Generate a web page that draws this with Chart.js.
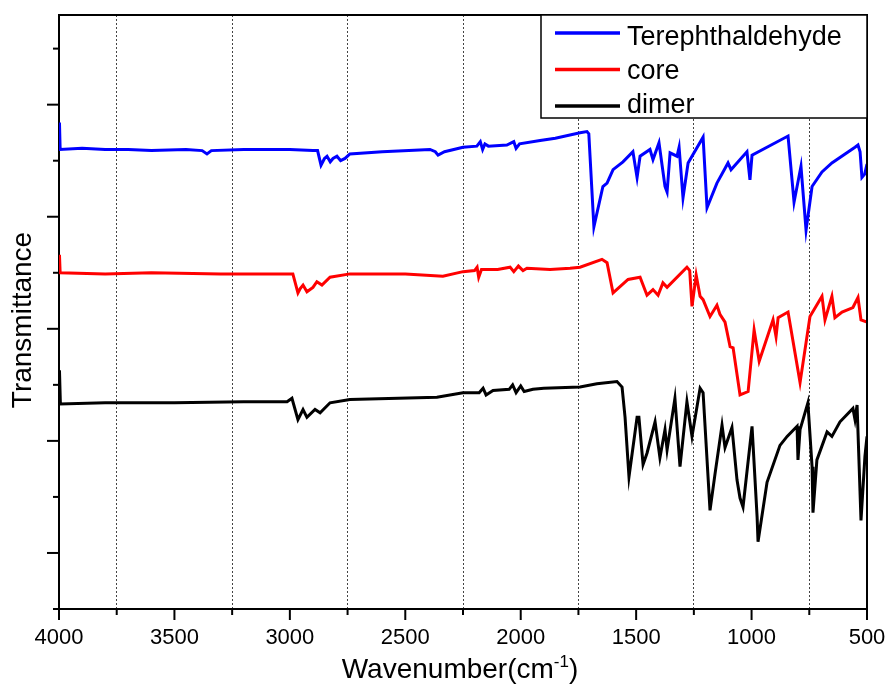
<!DOCTYPE html>
<html>
<head>
<meta charset="utf-8">
<script src="https://cdn.jsdelivr.net/npm/chart.js@4.4.1/dist/chart.umd.min.js"></script>
<style>
  html, body { margin: 0; padding: 0; background: #fff; }
  #wrap { width: 889px; height: 686px; }
</style>
</head>
<body>
<div id="wrap"><canvas id="ftir" width="889" height="686"></canvas></div>
<script>
// FTIR spectra, wavenumber (cm-1) vs transmittance (offset, arbitrary units)
const seriesLabels = ['Terephthaldehyde', 'core', 'dimer'];
const seriesColors = ['#0000ff', '#ff0000', '#000000'];

const terephWn = [4000, 3998, 3995, 3900, 3800, 3700, 3600, 3450, 3380, 3359, 3340, 3200, 3000, 2900, 2880, 2865, 2850, 2839, 2825, 2813, 2796, 2780, 2761, 2740, 2600, 2393, 2370, 2358, 2330, 2250, 2190, 2175, 2165, 2155, 2140, 2060, 2030, 2020, 2005, 1916, 1850, 1743, 1713, 1705, 1683, 1644, 1626, 1600, 1557, 1514, 1496, 1483, 1440, 1427, 1401, 1375, 1366, 1353, 1323, 1314, 1297, 1275, 1210, 1193, 1150, 1102, 1089, 1020, 1007, 998, 842, 816, 786, 764, 738, 695, 652, 552, 539, 530, 522, 510, 500];
const terephT = [4.10, 4.34, 4.10, 4.11, 4.10, 4.10, 4.09, 4.10, 4.09, 4.06, 4.09, 4.10, 4.10, 4.09, 4.09, 3.96, 4.02, 4.04, 3.99, 4.02, 4.04, 4.00, 4.02, 4.06, 4.08, 4.10, 4.08, 4.05, 4.08, 4.12, 4.13, 4.17, 4.10, 4.15, 4.13, 4.14, 4.17, 4.11, 4.15, 4.18, 4.20, 4.25, 4.26, 4.24, 3.41, 3.77, 3.80, 3.92, 3.99, 4.08, 3.85, 4.04, 4.10, 4.01, 4.16, 3.77, 3.72, 4.07, 4.04, 4.12, 3.67, 3.98, 4.21, 3.58, 3.80, 3.98, 3.92, 4.08, 3.83, 4.05, 4.22, 3.63, 3.95, 3.38, 3.77, 3.90, 3.98, 4.12, 4.14, 4.08, 3.85, 3.88, 3.97];

const coreWn = [4000, 3998, 3995, 3800, 3600, 3300, 3000, 2987, 2965, 2955, 2943, 2926, 2900, 2883, 2861, 2826, 2740, 2500, 2337, 2250, 2200, 2189, 2182, 2170, 2100, 2046, 2030, 2010, 1990, 1973, 1873, 1786, 1743, 1648, 1626, 1600, 1535, 1483, 1453, 1427, 1405, 1384, 1366, 1280, 1268, 1258, 1240, 1223, 1210, 1180, 1150, 1137, 1115, 1093, 1080, 1050, 1015, 989, 967, 907, 894, 885, 842, 790, 747, 695, 682, 652, 639, 608, 561, 539, 526, 500];
const coreT = [3.00, 3.16, 3.00, 2.99, 3.00, 2.99, 2.99, 2.99, 2.82, 2.86, 2.89, 2.83, 2.87, 2.92, 2.89, 2.96, 2.99, 2.99, 2.97, 3.01, 3.02, 3.05, 2.96, 3.03, 3.03, 3.05, 3.01, 3.06, 3.02, 3.04, 3.03, 3.04, 3.05, 3.12, 3.09, 2.82, 2.94, 2.96, 2.80, 2.85, 2.80, 2.91, 2.87, 3.05, 3.02, 2.70, 2.98, 2.79, 2.76, 2.61, 2.71, 2.63, 2.56, 2.34, 2.33, 1.91, 1.94, 2.49, 2.21, 2.58, 2.43, 2.60, 2.65, 2.02, 2.61, 2.79, 2.58, 2.79, 2.60, 2.65, 2.69, 2.78, 2.58, 2.56];

const dimerWn = [4000, 3998, 3994, 3800, 3500, 3200, 3012, 2991, 2965, 2943, 2926, 2891, 2869, 2826, 2740, 2363, 2250, 2180, 2163, 2150, 2120, 2050, 2035, 2020, 2000, 1985, 1947, 1900, 1743, 1670, 1583, 1561, 1548, 1531, 1496, 1488, 1470, 1453, 1418, 1397, 1375, 1366, 1332, 1310, 1280, 1258, 1223, 1210, 1180, 1158, 1128, 1115, 1085, 1063, 1050, 1037, 998, 976, 972, 933, 877, 846, 803, 799, 790, 756, 738, 734, 717, 673, 652, 617, 561, 552, 543, 526, 509, 500];
const dimerT = [1.83, 2.13, 1.83, 1.84, 1.84, 1.85, 1.85, 1.88, 1.69, 1.78, 1.71, 1.78, 1.75, 1.84, 1.87, 1.89, 1.93, 1.93, 1.97, 1.91, 1.95, 1.96, 2.00, 1.93, 1.99, 1.94, 1.96, 1.97, 1.98, 2.01, 2.03, 1.98, 1.71, 1.18, 1.71, 1.71, 1.29, 1.39, 1.67, 1.35, 1.60, 1.42, 1.88, 1.27, 1.85, 1.54, 1.97, 1.93, 0.88, 1.21, 1.64, 1.44, 1.62, 1.15, 0.99, 0.91, 1.63, 0.82, 0.60, 1.13, 1.46, 1.54, 1.63, 1.33, 1.60, 1.84, 1.27, 0.86, 1.33, 1.58, 1.54, 1.67, 1.79, 1.69, 1.82, 0.79, 1.36, 1.54];

const xMin = 500, xMax = 4000, xStep = 250, xMajor = 500;
const yMin = 0, yMax = 5.3, yStep = 0.5;

const FONT = "'Liberation Sans', Arial, sans-serif";

function toPoints(wn, t) {
  return wn.map((w, i) => ({ x: w, y: t[i] }));
}

function isWhole(v) {
  return Math.abs(v - Math.round(v)) < 1e-6;
}

const spectra = [[terephWn, terephT], [coreWn, coreT], [dimerWn, dimerT]];

// tick marks, frame, legend and axis titles
const decorations = {
  id: 'decorations',
  afterDraw(chart) {
    const { ctx, chartArea: a, scales: { x, y } } = chart;
    ctx.save();
    ctx.strokeStyle = '#000';
    ctx.lineWidth = 2;
    ctx.beginPath();
    ctx.moveTo(a.left, a.top);
    ctx.lineTo(a.right, a.top);
    ctx.lineTo(a.right, a.bottom);
    ctx.stroke();

    // x ticks: long at labelled values, short in between
    x.ticks.forEach(t => {
      const px = x.getPixelForValue(t.value);
      const len = t.value % xMajor === 0 ? 11 : 6;
      ctx.beginPath();
      ctx.moveTo(px, a.bottom);
      ctx.lineTo(px, a.bottom + len);
      ctx.stroke();
    });
    // y ticks (no labels); long ones sit at the half steps
    y.ticks.forEach(t => {
      if (!isWhole(t.value / yStep)) return;
      const py = y.getPixelForValue(t.value);
      const len = isWhole(t.value - 0.5) ? 12 : 6;
      ctx.beginPath();
      ctx.moveTo(a.left, py);
      ctx.lineTo(a.left - len, py);
      ctx.stroke();
    });

    // legend box in the upper right corner
    const lx = 541, ly = a.top, lw = a.right - lx, lh = 103;
    ctx.fillStyle = '#fff';
    ctx.fillRect(lx, ly, lw, lh);
    ctx.lineWidth = 1.5;
    ctx.strokeRect(lx, ly, lw, lh);
    ctx.font = '27px ' + FONT;
    ctx.textAlign = 'left';
    ctx.textBaseline = 'alphabetic';
    chart.data.datasets.forEach((ds, i) => {
      const rowY = 33 + i * 36.5;
      ctx.strokeStyle = ds.borderColor;
      ctx.lineWidth = 3.5;
      ctx.beginPath();
      ctx.moveTo(555, rowY);
      ctx.lineTo(620, rowY);
      ctx.stroke();
      ctx.fillStyle = '#000';
      ctx.fillText(ds.label, 627, 45 + i * 34);
    });

    // y title
    ctx.fillStyle = '#000';
    ctx.font = '28px ' + FONT;
    ctx.save();
    ctx.translate(23, 320);
    ctx.rotate(-Math.PI / 2);
    ctx.textAlign = 'center';
    ctx.textBaseline = 'middle';
    ctx.fillText('Transmittance', 0, 0);
    ctx.restore();

    // x title with superscript -1
    const main = 'Wavenumber(cm', sup = '-1', close = ')';
    ctx.font = '28px ' + FONT;
    const w1 = ctx.measureText(main).width;
    const w3 = ctx.measureText(close).width;
    ctx.font = '17px ' + FONT;
    const w2 = ctx.measureText(sup).width;
    let sx = 460 - (w1 + w2 + w3) / 2;
    const base = 678;
    ctx.textAlign = 'left';
    ctx.textBaseline = 'alphabetic';
    ctx.font = '28px ' + FONT;
    ctx.fillText(main, sx, base);
    sx += w1;
    ctx.font = '17px ' + FONT;
    ctx.fillText(sup, sx, base - 11);
    sx += w2;
    ctx.font = '28px ' + FONT;
    ctx.fillText(close, sx, base);
    ctx.restore();
  }
};

new Chart(document.getElementById('ftir'), {
  type: 'line',
  data: {
    datasets: spectra.map((s, i) => ({
      label: seriesLabels[i],
      data: toPoints(s[0], s[1]),
      borderColor: seriesColors[i],
      backgroundColor: seriesColors[i],
      borderWidth: 3,
      pointRadius: 0,
      tension: 0,
      fill: false
    }))
  },
  options: {
    responsive: false,
    animation: false,
    layout: { autoPadding: false, padding: { top: 15, right: 22, left: 0, bottom: 0 } },
    plugins: { legend: { display: false }, tooltip: { enabled: false } },
    scales: {
      x: {
        type: 'linear',
        reverse: true,
        min: xMin,
        max: xMax,
        afterFit(scale) {
          scale.height = 77;
          scale.paddingLeft = 0;
          scale.paddingRight = 0;
        },
        ticks: {
          stepSize: xStep,
          autoSkip: false,
          maxRotation: 0,
          padding: 16,
          color: '#000',
          font: { family: FONT, size: 22 },
          callback: v => (v % xMajor === 0 ? String(v) : '')
        },
        grid: {
          drawTicks: false,
          lineWidth: 1,
          color: c => (c.tick && c.tick.value % xMajor !== 0 ? '#444' : 'rgba(0,0,0,0)')
        },
        border: { display: true, color: '#000', width: 2, dash: [2, 2] }
      },
      y: {
        type: 'linear',
        min: yMin,
        max: yMax,
        afterFit(scale) {
          scale.width = 59;
          scale.paddingTop = 0;
          scale.paddingBottom = 0;
        },
        ticks: { display: false, stepSize: yStep },
        grid: { drawOnChartArea: false, drawTicks: false },
        border: { display: true, color: '#000', width: 2 }
      }
    }
  },
  plugins: [decorations]
});
</script>
</body>
</html>
